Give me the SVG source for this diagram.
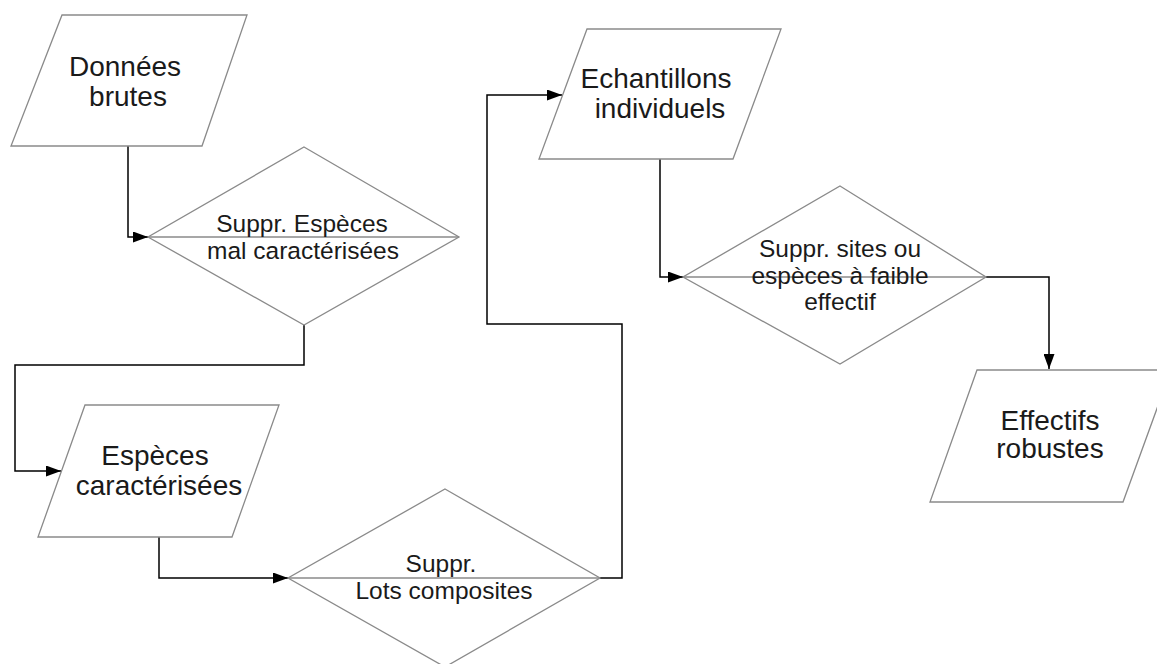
<svg xmlns="http://www.w3.org/2000/svg" width="1157" height="664" viewBox="0 0 1157 664">
<style>
.shape{fill:#fff;stroke:#8a8a8a;stroke-width:1.3}
.mid{stroke:#8a8a8a;stroke-width:1.3}
.conn{fill:none;stroke:#000;stroke-width:1.5}
.tp{font-family:"Liberation Sans",Arial,sans-serif;font-size:28px;fill:#1a1a1a;text-anchor:middle}
.td{font-family:"Liberation Sans",Arial,sans-serif;font-size:24.5px;fill:#1a1a1a;text-anchor:middle}
</style>
<defs>
<marker id="arr" markerWidth="15" markerHeight="11" refX="15" refY="5.5" orient="auto" markerUnits="userSpaceOnUse">
<path d="M0,0 L15,5.5 L0,11 Z" fill="#000"/>
</marker>
</defs>
<rect width="1157" height="664" fill="#fff"/>
<g id="connectors">
<polyline class="conn" points="128,146 128,237 148,237" marker-end="url(#arr)"/>
<polyline class="conn" points="304,325 304,365 15,365 15,471 61,471" marker-end="url(#arr)"/>
<polyline class="conn" points="159,537 159,578 288,578" marker-end="url(#arr)"/>
<polyline class="conn" points="600,578 622,578 622,324 487,324 487,95 562,95" marker-end="url(#arr)"/>
<polyline class="conn" points="660,159 660,277 683,277" marker-end="url(#arr)"/>
<polyline class="conn" points="986,277 1049,277 1049,369" marker-end="url(#arr)"/>
</g>
<g id="donnees-brutes">
<polygon class="shape" points="62,15 247,15 202,146 11,146"/>
<text class="tp" x="125" y="76">Données</text>
<text class="tp" x="128" y="106">brutes</text>
</g>
<g id="suppr-especes">
<polygon class="shape" points="304,147 459,237 304,325 148,237"/>
<line class="mid" x1="148" y1="237" x2="459" y2="237"/>
<text class="td" x="302" y="232">Suppr. Espèces</text>
<text class="td" x="303" y="259">mal caractérisées</text>
</g>
<g id="especes-caracterisees">
<polygon class="shape" points="85,405 279,405 232,537 38,537"/>
<text class="tp" x="155" y="465">Espèces</text>
<text class="tp" x="159" y="495">caractérisées</text>
</g>
<g id="suppr-lots">
<polygon class="shape" points="445,489 600,578 445,667 288,578"/>
<line class="mid" x1="288" y1="578" x2="600" y2="578"/>
<text class="td" x="441" y="572">Suppr.</text>
<text class="td" x="444" y="599">Lots composites</text>
</g>
<g id="echantillons">
<polygon class="shape" points="587,29 781,29 733,159 539,159"/>
<text class="tp" x="656" y="88">Echantillons</text>
<text class="tp" x="660" y="118">individuels</text>
</g>
<g id="suppr-sites">
<polygon class="shape" points="840,186 986,277 840,364 683,277"/>
<line class="mid" x1="683" y1="277" x2="986" y2="277"/>
<text class="td" x="840" y="257">Suppr. sites ou</text>
<text class="td" x="840" y="284">espèces à faible</text>
<text class="td" x="840" y="310">effectif</text>
</g>
<g id="effectifs-robustes">
<polygon class="shape" points="977,370 1171,370 1123,502 930,502"/>
<text class="tp" x="1050" y="430">Effectifs</text>
<text class="tp" x="1050" y="458">robustes</text>
</g>
</svg>
